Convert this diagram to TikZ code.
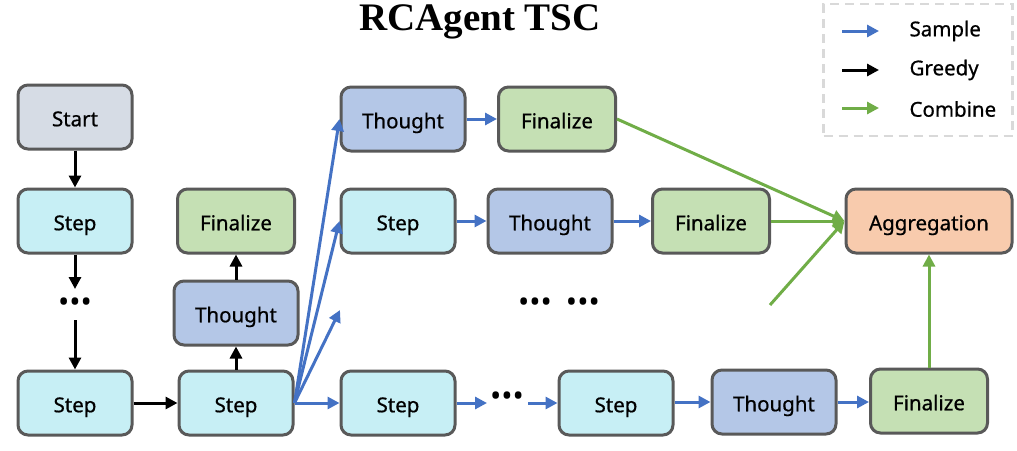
\documentclass[tikz,border=0pt]{standalone}
\usepackage{fontspec}
\setmainfont{Noto Sans}[FakeBold=0.7]
\newfontfamily\titlefont{Liberation Serif}
\newfontfamily\dotfont{Noto Sans}
\usetikzlibrary{arrows.meta}
\definecolor{bordc}{HTML}{595959}
\definecolor{startc}{HTML}{D6DCE5}
\definecolor{stepc}{HTML}{C7EFF5}
\definecolor{thoughtc}{HTML}{B4C7E7}
\definecolor{finc}{HTML}{C5E0B4}
\definecolor{aggc}{HTML}{F8CBAD}
\definecolor{bluec}{HTML}{4472C4}
\definecolor{greenc}{HTML}{70AD47}
\definecolor{legc}{HTML}{D9D9D9}
\tikzset{
  box/.style={draw=bordc, line width=3pt, rounded corners=10pt, minimum height=64pt, align=center, font=\fontsize{20.5}{24}\selectfont, inner sep=0pt, text height=19pt, text depth=0.5pt},
  stepbox/.style={box, fill=stepc, minimum width=114pt},
  startbox/.style={box, fill=startc, minimum width=114pt},
  thoughtbox/.style={box, fill=thoughtc, minimum width=124pt},
  finbox/.style={box, fill=finc, minimum width=117pt},
  aggbox/.style={box, fill=aggc, minimum width=166pt},
  dotsnode/.style={inner sep=0pt, font=\dotfont\fontsize{30}{30}\selectfont},
  tip/.style={-{Triangle[length=12pt,width=12pt]}, line width=3pt},
  greedy/.style={tip, black},
  sample/.style={tip, bluec},
  combine/.style={tip, greenc},
  legtext/.style={anchor=west, font=\fontsize{20.5}{24}\selectfont},
}
\newcommand{\mydots}{\textbullet\textbullet\textbullet}
\begin{document}
\begin{tikzpicture}[x=1pt,y=-1pt]
\useasboundingbox (0,0) rectangle (1017,450);
% title
\node[font=\titlefont\bfseries\fontsize{39}{42}\selectfont] (title) at (480,22) {RCAgent TSC};
% legend
\node[draw=legc, dashed, dash pattern=on 9pt off 6pt, line width=2.5pt, minimum width=189pt, minimum height=132pt, inner sep=0pt] (legend) at (918,70) {};
\coordinate (ls1) at (842,31); \coordinate (le1) at (879,31);
\coordinate (ls2) at (842,70); \coordinate (le2) at (879,70);
\coordinate (ls3) at (842,108); \coordinate (le3) at (879,108);
\draw[sample] (ls1) -- (le1);
\draw[greedy] (ls2) -- (le2);
\draw[combine] (ls3) -- (le3);
\node[legtext] (lt1) at (906,31) {Sample};
\node[legtext] (lt2) at (906,70) {Greedy};
\node[legtext] (lt3) at (906,109) {Combine};
% left column
\node[startbox] (start) at (75,117) {Start};
\node[stepbox] (s1) at (75,221) {Step};
\node[dotsnode] (d1) at (75,305) {\mydots};
\node[stepbox] (s2) at (75,403) {Step};
\node[stepbox] (s3) at (236,403) {Step};
\node[thoughtbox] (t0) at (236,313) {Thought};
\node[finbox] (f0) at (236,221) {Finalize};
% top row
\node[thoughtbox] (t1) at (403,119) {Thought};
\node[finbox] (f1) at (557,119) {Finalize};
% middle row
\node[stepbox] (s4) at (398,221) {Step};
\node[thoughtbox] (t2) at (550,221) {Thought};
\node[finbox] (f2) at (711,221) {Finalize};
\node[aggbox] (agg) at (929,221) {Aggregation};
\node[dotsnode] (d2) at (559,305) {\mydots\hspace{14pt}\mydots};
% bottom row
\node[stepbox] (s5) at (398,403) {Step};
\node[dotsnode] (d3) at (507,399) {\mydots};
\node[stepbox] (s6) at (616,403) {Step};
\node[thoughtbox] (t3) at (774,402) {Thought};
\node[finbox] (f3) at (929,401) {Finalize};
% greedy arrows
\draw[greedy] (start) -- (s1);
\draw[greedy] (s1.south) -- (75,289);
\draw[greedy] (75,320) -- (s2.north);
\draw[greedy] (s2) -- (s3);
\draw[greedy] (s3) -- (t0);
\draw[greedy] (t0) -- (f0);
% sample arrows
\coordinate (fan) at (s3.east);
\coordinate (free1) at (340,310);
\draw[sample] (fan) -- (t1.west);
\draw[sample] (fan) -- (s4.west);
\draw[sample] (fan) -- (free1);
\draw[sample] (fan) -- (s5.west);
\draw[sample] (t1) -- (f1);
\draw[sample] (s4) -- (t2);
\draw[sample] (t2) -- (f2);
\coordinate (d3l) at (487,403);
\coordinate (d3r) at (528,403);
\draw[sample] (s5.east) -- (d3l);
\draw[sample] (d3r) -- (s6.west);
\draw[sample] (s6.east |- t3) -- (t3);
\draw[sample] (t3) -- (f3.west |- t3);
% combine arrows
\coordinate (free2) at (770,305);
\draw[combine] (f1.east) -- (agg.west);
\draw[combine] (f2) -- (agg);
\draw[combine] (free2) -- (agg.west);
\draw[combine] (f3) -- (agg);
\end{tikzpicture}
\end{document}
